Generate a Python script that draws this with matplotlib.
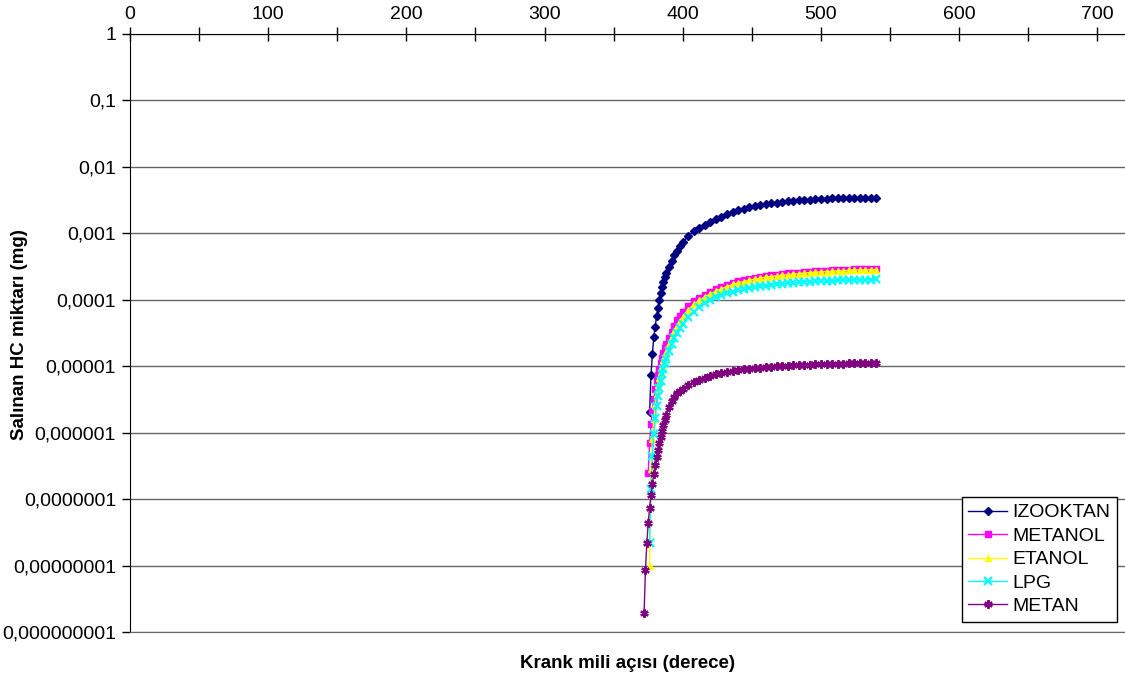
import matplotlib.pyplot as plt
from matplotlib.ticker import FixedLocator, MultipleLocator, NullLocator

plt.rcParams['font.family'] = ['Liberation Sans', 'DejaVu Sans']

# krank mili açısı (derece) - ortak kuyruk kısmı
tail_angles = [390, 392, 394, 396, 398, 400] + list(range(404, 541, 4))

izooktan_x = list(range(376, 389)) + tail_angles
izooktan_y = [2.04e-6, 7.41e-6, 1.51e-5, 2.75e-5, 3.89e-5, 5.62e-5, 7.41e-5, 1.00e-4, 1.26e-4,
              1.58e-4, 1.86e-4, 2.24e-4, 2.57e-4,
              3.16e-4, 3.89e-4, 4.68e-4, 5.50e-4, 6.46e-4, 7.41e-4,
              9.12e-4, 1.07e-3, 1.20e-3, 1.35e-3, 1.48e-3, 1.62e-3, 1.78e-3, 1.95e-3, 2.09e-3,
              2.24e-3, 2.34e-3, 2.45e-3, 2.57e-3, 2.63e-3, 2.75e-3, 2.82e-3, 2.88e-3, 2.95e-3,
              3.02e-3, 3.09e-3, 3.14e-3, 3.18e-3, 3.22e-3, 3.26e-3,
              3.30e-3, 3.33e-3, 3.36e-3, 3.38e-3, 3.40e-3, 3.41e-3, 3.42e-3, 3.43e-3, 3.44e-3,
              3.45e-3, 3.45e-3]

metanol_x = list(range(375, 389)) + tail_angles
metanol_y = [2.51e-7, 6.92e-7, 1.35e-6, 2.09e-6, 3.16e-6, 4.47e-6, 5.89e-6, 7.41e-6, 9.12e-6,
             1.12e-5, 1.35e-5, 1.58e-5, 1.86e-5, 2.14e-5,
             2.63e-5, 3.31e-5, 4.07e-5, 4.90e-5, 5.75e-5, 6.61e-5,
             8.13e-5, 9.55e-5, 1.07e-4, 1.20e-4, 1.32e-4, 1.45e-4, 1.57e-4, 1.68e-4, 1.80e-4,
             1.91e-4, 2.00e-4, 2.09e-4, 2.16e-4, 2.24e-4, 2.29e-4, 2.34e-4, 2.40e-4, 2.45e-4,
             2.51e-4, 2.54e-4, 2.57e-4, 2.63e-4, 2.66e-4, 2.69e-4, 2.72e-4, 2.75e-4, 2.79e-4,
             2.82e-4, 2.83e-4, 2.85e-4, 2.88e-4, 2.89e-4, 2.90e-4, 2.92e-4, 2.92e-4]

etanol_x = list(range(376, 389)) + tail_angles
etanol_y = [1.00e-8, 2.82e-7, 7.94e-7, 1.58e-6, 2.63e-6, 3.80e-6, 5.13e-6, 6.61e-6, 8.32e-6,
            1.02e-5, 1.23e-5, 1.45e-5, 1.66e-5,
            2.19e-5, 2.75e-5, 3.39e-5, 4.07e-5, 4.79e-5, 5.50e-5,
            7.08e-5, 8.51e-5, 9.77e-5, 1.11e-4, 1.23e-4, 1.35e-4, 1.46e-4, 1.58e-4, 1.70e-4,
            1.80e-4, 1.88e-4, 1.97e-4, 2.04e-4, 2.11e-4, 2.19e-4, 2.24e-4, 2.29e-4, 2.34e-4,
            2.40e-4, 2.44e-4, 2.48e-4, 2.52e-4, 2.57e-4, 2.60e-4, 2.63e-4, 2.66e-4, 2.69e-4,
            2.72e-4, 2.74e-4, 2.77e-4, 2.79e-4, 2.81e-4, 2.82e-4, 2.83e-4, 2.85e-4]

lpg_x = list(range(376, 389)) + tail_angles
lpg_y = [2.19e-8, 1.41e-7, 4.47e-7, 9.55e-7, 1.66e-6, 2.51e-6, 3.55e-6, 4.68e-6, 6.03e-6,
         7.59e-6, 9.12e-6, 1.10e-5, 1.29e-5,
         1.70e-5, 2.14e-5, 2.63e-5, 3.16e-5, 3.72e-5, 4.27e-5,
         5.50e-5, 6.61e-5, 7.76e-5, 8.91e-5, 1.00e-4, 1.09e-4, 1.17e-4, 1.25e-4, 1.32e-4,
         1.38e-4, 1.44e-4, 1.50e-4, 1.55e-4, 1.60e-4, 1.64e-4, 1.68e-4, 1.72e-4, 1.75e-4,
         1.78e-4, 1.80e-4, 1.83e-4, 1.85e-4, 1.87e-4, 1.89e-4, 1.91e-4, 1.93e-4, 1.95e-4,
         1.96e-4, 1.97e-4, 1.98e-4, 2.00e-4, 2.00e-4, 2.00e-4, 2.01e-4, 2.02e-4]

metan_x = list(range(372, 389)) + tail_angles
metan_y = [1.95e-9, 8.71e-9, 2.19e-8, 4.37e-8, 7.41e-8, 1.15e-7, 1.70e-7, 2.40e-7, 3.24e-7,
           4.27e-7, 5.50e-7, 6.92e-7, 8.71e-7, 1.07e-6, 1.29e-6, 1.55e-6, 1.82e-6,
           2.40e-6, 2.95e-6, 3.47e-6, 3.89e-6, 4.27e-6, 4.57e-6,
           5.25e-6, 5.75e-6, 6.31e-6, 6.76e-6, 7.24e-6, 7.59e-6, 7.94e-6, 8.32e-6, 8.51e-6,
           8.81e-6, 9.02e-6, 9.23e-6, 9.44e-6, 9.55e-6, 9.77e-6, 9.89e-6, 1.00e-5, 1.01e-5,
           1.02e-5, 1.04e-5, 1.05e-5, 1.05e-5, 1.06e-5, 1.07e-5, 1.07e-5, 1.08e-5, 1.08e-5,
           1.09e-5, 1.09e-5, 1.10e-5, 1.10e-5, 1.10e-5, 1.11e-5, 1.11e-5, 1.11e-5]

y_ticks = [1, 1e-1, 1e-2, 1e-3, 1e-4, 1e-5, 1e-6, 1e-7, 1e-8, 1e-9]
y_tick_labels = ['1', '0,1', '0,01', '0,001', '0,0001', '0,00001', '0,000001',
                 '0,0000001', '0,00000001', '0,000000001']

fig = plt.figure(figsize=(11.25, 6.79), dpi=100)
ax = fig.add_axes([130 / 1125, 1 - 632 / 679, 995 / 1125, 598 / 679])

ax.plot(izooktan_x, izooktan_y, color='#000080', marker='D', markersize=4.5, lw=1, label='IZOOKTAN')
ax.plot(metanol_x, metanol_y, color='#FF00FF', marker='s', markersize=4.8, lw=1, label='METANOL')
ax.plot(etanol_x, etanol_y, color='#FFFF00', marker='^', markersize=5, lw=1, label='ETANOL')
ax.plot(lpg_x, lpg_y, color='#00FFFF', marker='x', markersize=5.5, mew=1.6, lw=1, label='LPG')
ax.plot(metan_x, metan_y, color='#800080', marker=(6, 2, 0), markersize=6, mew=1.6, lw=1, label='METAN')

ax.set_yscale('log')
ax.set_ylim(1e-9, 1)
ax.set_xlim(0, 720)

ax.yaxis.set_major_locator(FixedLocator(y_ticks))
ax.yaxis.set_minor_locator(NullLocator())
ax.set_yticklabels(y_tick_labels)
ax.grid(True, axis='y', color='#666666', lw=1)

ax.xaxis.tick_top()
ax.xaxis.set_major_locator(FixedLocator(list(range(0, 701, 100))))
ax.xaxis.set_minor_locator(MultipleLocator(50))
ax.tick_params(axis='x', which='both', direction='inout', length=10, width=1, pad=3, labelsize=14)
ax.tick_params(axis='y', which='major', direction='out', length=6, width=1, pad=4, labelsize=14)

ax.spines['right'].set_visible(False)
ax.spines['bottom'].set_color('#666666')
for s in ['top', 'left']:
    ax.spines[s].set_color('black')

fig.text(628 / 1125, 1 - 663 / 679, 'Krank mili açısı (derece)', ha='center', va='center',
         fontsize=13.5, fontweight='bold')
fig.text(20 / 1125, 1 - 335 / 679, 'Salınan HC miktarı (mg)', ha='center', va='center',
         rotation=90, fontsize=13.5, fontweight='bold')

leg = ax.legend(loc='lower right', bbox_to_anchor=(0.992, 0.0167), borderaxespad=0, fontsize=14,
                frameon=True, fancybox=False, edgecolor='black', framealpha=1, handlelength=2.0,
                handletextpad=0.25, labelspacing=0.3, borderpad=0.35)
leg.get_frame().set_linewidth(1)

fig.savefig('out.png', dpi=100)
